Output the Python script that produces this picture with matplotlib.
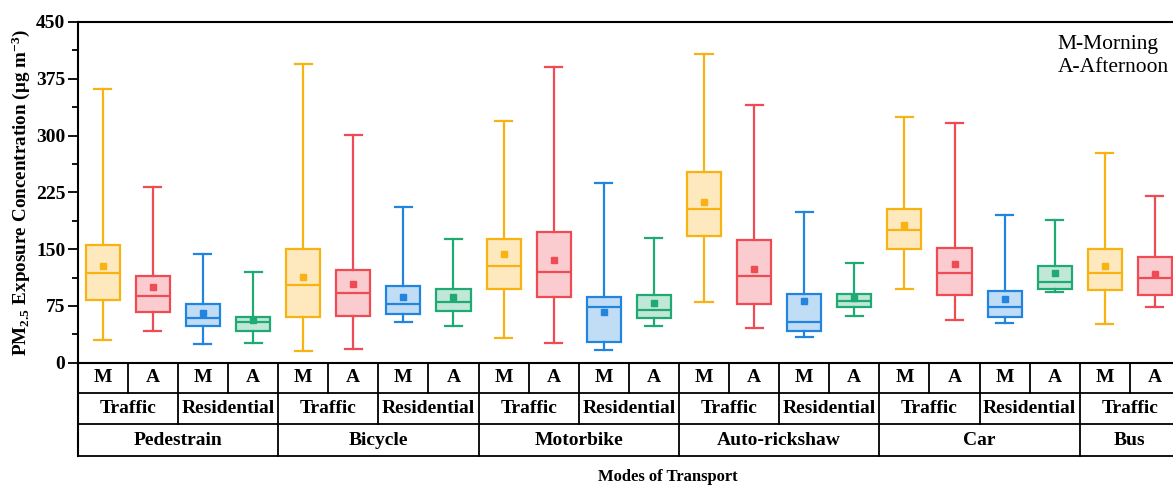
import matplotlib
matplotlib.use("Agg")
import matplotlib.pyplot as plt
import matplotlib.transforms as mtransforms
from matplotlib.ticker import MultipleLocator

plt.rcParams["font.family"] = "Liberation Serif"
plt.rcParams["font.weight"] = "bold"
plt.rcParams["mathtext.fontset"] = "custom"
plt.rcParams["mathtext.rm"] = "Liberation Serif:bold"
plt.rcParams["mathtext.bf"] = "Liberation Serif:bold"
plt.rcParams["mathtext.it"] = "Liberation Serif:italic:bold"

# data (PM2.5, ug/m3)
modes = ["Pedestrain", "Bicycle", "Motorbike", "Auto-rickshaw", "Car", "Bus"]
sites = ["Traffic", "Residential"]
times = ["M", "A"]
# box order: per mode -> Traffic M, Traffic A, Residential M, Residential A (Bus: Traffic only)
groups = ["TM", "TA", "RM", "RA"] * 5 + ["TM", "TA"]
whis_hi = [361, 232, 144, 120, 395, 301, 205, 164, 319, 391, 237, 165,
           408, 340, 199, 132, 325, 317, 195, 189, 277, 220]
q3 = [155, 114, 77, 61, 150, 122, 101, 97, 164, 172, 87, 90,
      252, 162, 91, 91, 203, 151, 95, 128, 150, 139]
median = [118, 88, 59, 54, 102, 92, 77, 80, 128, 120, 74, 70,
          203, 114, 54, 81, 175, 119, 74, 106, 118, 112]
mean = [128, 100, 65, 56, 113, 104, 87, 87, 144, 136, 67, 79,
        212, 124, 82, 85, 182, 130, 84, 118, 128, 117]
q1 = [83, 67, 48, 42, 61, 62, 64, 68, 97, 87, 28, 59,
      167, 77, 42, 74, 150, 89, 60, 97, 96, 89]
whis_lo = [30, 42, 25, 26, 16, 18, 54, 48, 32, 26, 17, 49,
           80, 46, 34, 62, 97, 57, 52, 93, 51, 73]

colors = {"TM": "#F8B312", "TA": "#EE4B55", "RM": "#2184DE", "RA": "#1EAA72"}

n = len(q1)
pos = list(range(1, n + 1))

fig = plt.figure(figsize=(11.73, 4.86), dpi=100)
ax = fig.add_axes([77.7 / 1173, 1 - 362.7 / 486, 1102.3 / 1173, 340.7 / 486])

stats = []
for i in range(n):
    stats.append(dict(med=median[i], q1=q1[i], q3=q3[i], whislo=whis_lo[i],
                      whishi=whis_hi[i], mean=mean[i], fliers=[]))

bp = ax.bxp(stats, positions=pos, widths=0.68, capwidths=0.34, showmeans=True,
            patch_artist=True, manage_ticks=False)
for i in range(n):
    c = colors[groups[i]]
    bp["boxes"][i].set_facecolor(matplotlib.colors.to_rgba(c, 0.28))
    bp["boxes"][i].set_edgecolor(c)
    bp["boxes"][i].set_linewidth(1.6)
    bp["medians"][i].set_color(c)
    bp["medians"][i].set_linewidth(1.6)
    for ln in bp["whiskers"][2 * i:2 * i + 2] + bp["caps"][2 * i:2 * i + 2]:
        ln.set_color(c)
        ln.set_linewidth(1.6)
    bp["means"][i].set_marker("s")
    bp["means"][i].set_markerfacecolor(c)
    bp["means"][i].set_markeredgecolor(c)
    bp["means"][i].set_markersize(5)

ax.set_xlim(0.5, n + 0.5)
ax.set_ylim(0, 450)
ax.yaxis.set_major_locator(MultipleLocator(75))
ax.yaxis.set_minor_locator(MultipleLocator(37.5))
ax.tick_params(axis="y", which="major", length=7, width=1.3, labelsize=14, pad=2)
ax.tick_params(axis="y", which="minor", length=4, width=1.3)
ax.set_xticks([])
for s in ax.spines.values():
    s.set_linewidth(1.5)
ax.spines["left"].set_bounds(0, 450)

ax.set_ylabel("PM$_{2.5}$ Exposure Concentration (μg m$^{-3}$)", fontsize=13.8,
              fontweight="bold", labelpad=3)

ax.text(0.889, 0.962, "M-Morning\nA-Afternoon", transform=ax.transAxes,
        fontsize=15.5, fontweight="normal", va="top", ha="left", linespacing=1.3)

# category table under the axis
tr = mtransforms.blended_transform_factory(ax.transData, ax.transAxes)
rows = [0, -0.0898, -0.181, -0.274]
lw = 1.3
for y in rows[1:]:
    ax.plot([0.5, n + 0.5], [y, y], transform=tr, color="black", lw=lw, clip_on=False)
ax.plot([0.5, 0.5], [0, rows[3]], transform=tr, color="black", lw=1.5, clip_on=False)

# row 1: M / A
for i in range(n):
    ax.text(pos[i], (rows[0] + rows[1]) / 2, times[i % 2], transform=tr,
            ha="center", va="center", fontsize=14, fontweight="bold")
    if i > 0:
        ax.plot([i + 0.5, i + 0.5], [rows[0], rows[1]], transform=tr,
                color="black", lw=lw, clip_on=False)
# row 2: site type
for j in range(n // 2):
    x0 = 0.5 + 2 * j
    ax.text(x0 + 1, (rows[1] + rows[2]) / 2, sites[j % 2], transform=tr,
            ha="center", va="center", fontsize=14, fontweight="bold")
    if j > 0:
        ax.plot([x0, x0], [rows[1], rows[2]], transform=tr,
                color="black", lw=lw, clip_on=False)
# row 3: mode
start = 0.5
for k, m in enumerate(modes):
    w = 4 if m != "Bus" else 2
    ax.text(start + w / 2, (rows[2] + rows[3]) / 2, m, transform=tr,
            ha="center", va="center", fontsize=14, fontweight="bold")
    if k > 0:
        ax.plot([start, start], [rows[2], rows[3]], transform=tr,
                color="black", lw=lw, clip_on=False)
    start += w

fig.text(668 / 1173, 1 - 477 / 486, "Modes of Transport", ha="center", va="center",
         fontsize=12, fontweight="bold")

fig.savefig("out.png", dpi=100)
